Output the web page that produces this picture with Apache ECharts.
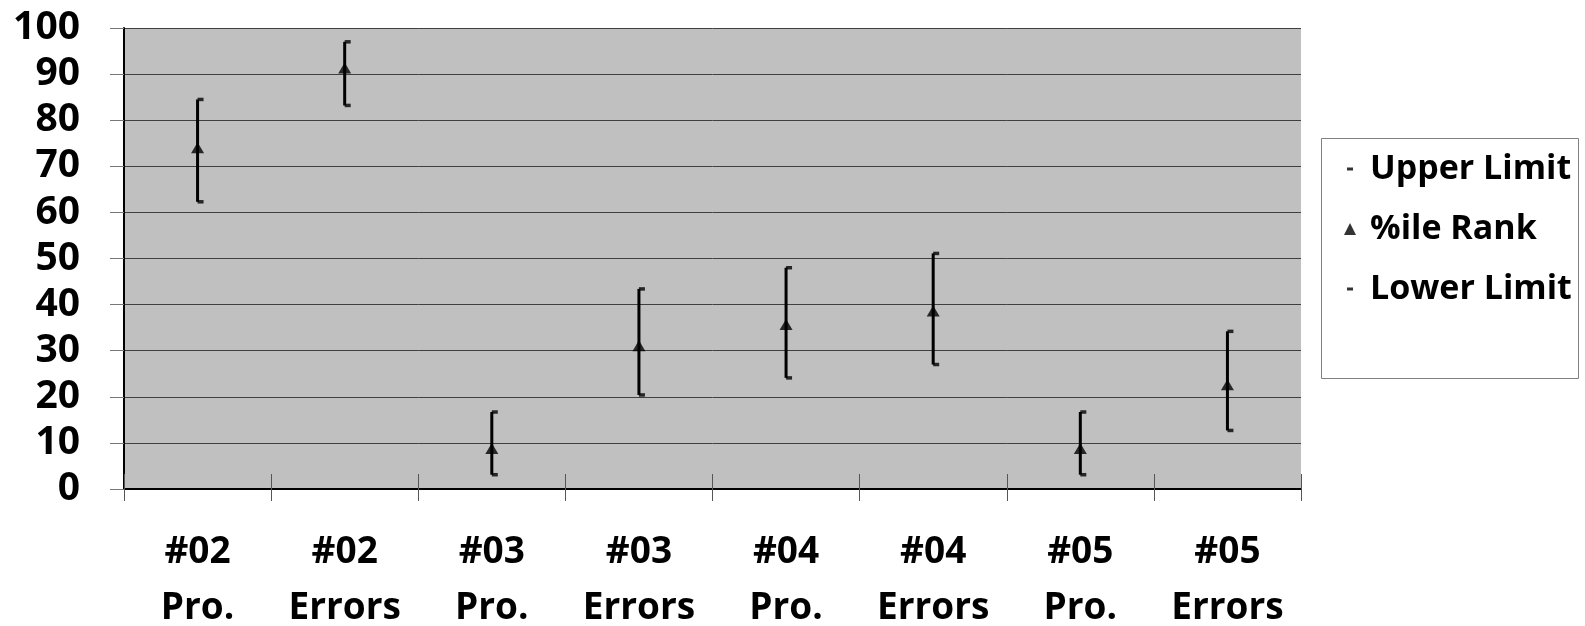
<!DOCTYPE html>
<html>
<head>
<meta charset="utf-8">
<script src="https://cdn.jsdelivr.net/npm/echarts@6/dist/echarts.min.js"></script>
<style>html,body{margin:0;padding:0;background:#fff}#c{width:1585px;height:626px}</style>
</head>
<body>
<div id="c"></div>
<script>
const categories = ['#02\nPro.', '#02\nErrors', '#03\nPro.', '#03\nErrors', '#04\nPro.', '#04\nErrors', '#05\nPro.', '#05\nErrors'];
const upperLimit = [84.5, 97.0, 16.7, 43.4, 48.0, 51.1, 16.7, 34.2];
const pctRank = [74.0, 91.3, 8.8, 31.1, 35.7, 38.6, 8.8, 22.6];
const lowerLimit = [62.3, 83.2, 3.1, 20.4, 24.1, 27.0, 3.1, 12.7];
const yTicks = {min: 0, max: 100, interval: 10};

const FONT = '"Open Sans", "Noto Sans", sans-serif';
const chart = echarts.init(document.getElementById('c'), null, {renderer: 'canvas'});
const dashIcon = 'path://M0,0L0.01,0Z M12,12L12.01,12Z M3,4.5L9,4.5L9,7.5L3,7.5Z';
const capSymbol = 'rect';

const hl = categories.map((c, i) => [i, lowerLimit[i], upperLimit[i]]);

chart.setOption({
  animation: false,
  backgroundColor: '#ffffff',
  grid: {left: 124, top: 28, right: 284, bottom: 137, show: true, backgroundColor: '#C0C0C0', borderWidth: 0,
    outerBoundsMode: 'none', containLabel: false},
  graphic: [{
    type: 'rect', left: 1321, top: 138, z: -1,
    shape: {width: 257, height: 240},
    style: {fill: '#fff', stroke: '#808080', lineWidth: 1}
  }],
  legend: {
    orient: 'vertical', left: 1339, top: 144,
    itemWidth: 12, itemHeight: 12, itemGap: 20,
    textStyle: {fontFamily: FONT, fontWeight: 'bold', fontSize: 34, color: '#000', lineHeight: 40, padding: [0, 0, 0, 9]},
    data: [
      {name: 'Upper Limit', icon: dashIcon},
      {name: '%ile Rank', icon: 'triangle'},
      {name: 'Lower Limit', icon: dashIcon}
    ]
  },
  xAxis: [{
    type: 'category', data: categories, boundaryGap: true, position: 'bottom',
    axisLine: {show: true, lineStyle: {color: '#000', width: 2}},
    axisTick: {show: true, inside: true, length: 15, lineStyle: {color: '#555', width: 1}},
    axisLabel: {fontFamily: FONT, fontWeight: 'bold', fontSize: 37, color: '#000', lineHeight: 56, margin: 35, interval: 0}
  }, {
    type: 'category', data: categories, boundaryGap: true, position: 'bottom',
    axisLine: {show: false},
    axisTick: {show: true, inside: false, length: 12, lineStyle: {color: '#555', width: 1}},
    axisLabel: {show: false}
  }],
  yAxis: {
    type: 'value', min: yTicks.min, max: yTicks.max, interval: yTicks.interval,
    axisLine: {show: true, lineStyle: {color: '#000', width: 2}},
    axisTick: {show: true, length: 14, lineStyle: {color: '#777', width: 1}},
    splitLine: {show: true, lineStyle: {color: '#404040', width: 1}},
    axisLabel: {fontFamily: FONT, fontWeight: 'bold', fontSize: 39, color: '#000', margin: 44}
  },
  series: [{
    type: 'custom', name: 'hl', silent: true, z: 3,
    data: hl,
    renderItem: function (params, api) {
      const x = api.value(0);
      const p1 = api.coord([x, api.value(1)]);
      const p2 = api.coord([x, api.value(2)]);
      return {type: 'line', shape: {x1: p1[0], y1: p1[1], x2: p2[0], y2: p2[1]},
        style: {stroke: '#000', lineWidth: 3}};
    }
  }, {
    type: 'scatter', name: 'Upper Limit', z: 4,
    data: upperLimit, symbol: capSymbol, symbolSize: [6, 3.5], symbolOffset: [3, 0],
    itemStyle: {color: '#000'}
  }, {
    type: 'scatter', name: '%ile Rank', z: 5,
    data: pctRank, symbol: 'triangle', symbolSize: [13, 11],
    itemStyle: {color: '#000'}
  }, {
    type: 'scatter', name: 'Lower Limit', z: 4,
    data: lowerLimit, symbol: capSymbol, symbolSize: [6, 3.5], symbolOffset: [3, 0],
    itemStyle: {color: '#000'}
  }]
});
</script>
</body>
</html>
